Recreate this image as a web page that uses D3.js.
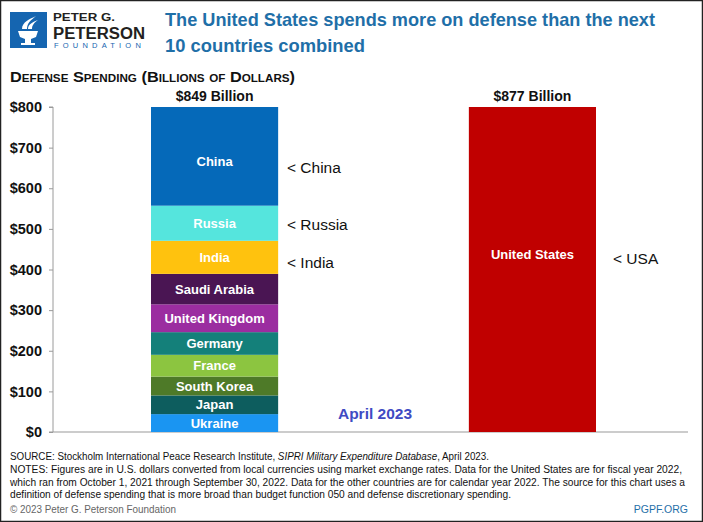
<!DOCTYPE html>
<html>
<head>
<meta charset="utf-8">
<script src="https://cdn.jsdelivr.net/npm/d3@7"></script>
<style>
  html, body { margin: 0; padding: 0; background: #fff; }
  svg { display: block; }
  text { font-family: "Liberation Sans", Arial, sans-serif; }
</style>
</head>
<body>
<svg id="chart" width="703" height="522"></svg>
<script>
// ---- data ----
const countries = ["Ukraine", "Japan", "South Korea", "France", "Germany", "United Kingdom", "Saudi Arabia", "India", "Russia", "China"];
const spending = [44.0, 46.0, 46.4, 53.6, 55.8, 68.5, 75.0, 81.4, 86.4, 292.0];
const countryColors = ["#1a95f2", "#0d5d5e", "#4e7a28", "#8cc540", "#14807a", "#9b2da0", "#4a1553", "#ffc20e", "#55e5dd", "#0569b9"];
const usLabel = "United States";
const usSpending = 877;
const barGroups = ["others", "us"];
const totalLabels = ["$849 Billion", "$877 Billion"];
const yTicks = [0, 100, 200, 300, 400, 500, 600, 700, 800];

const svg = d3.select("#chart");
const W = 703, H = 522;

// border
svg.append("rect").attr("x", 0.5).attr("y", 0.5).attr("width", W - 1).attr("height", H - 1)
  .attr("fill", "#fff").attr("stroke", "#222").attr("stroke-width", 1.5);

// ---- logo ----
const logo = svg.append("g");
logo.append("rect").attr("x", 10).attr("y", 12).attr("width", 37).attr("height", 36).attr("fill", "#1565b0");
logo.append("path").attr("d", "M18,31 L38,31 L36,37 L31,39 L31,43 L35,43 L35,45 L21,45 L21,43 L25,43 L25,39 L20,37 Z").attr("fill", "#fff");
logo.append("path").attr("d", "M22,29 C22,22 30,19 36,16 C31,20 27,23 27,29 Z").attr("fill", "#fff");
logo.append("path").attr("d", "M28,29 C28,24 33,22 38,20 C34,23 32,25 32,29 Z").attr("fill", "#fff");
logo.append("text").attr("x", 53).attr("y", 21).attr("font-size", 11.5).attr("font-weight", "bold")
  .attr("fill", "#231f20").attr("textLength", 62).attr("lengthAdjust", "spacingAndGlyphs").text("PETER G.");
logo.append("text").attr("x", 53).attr("y", 38.5).attr("font-size", 16).attr("font-weight", "bold")
  .attr("fill", "#231f20").attr("textLength", 92).attr("lengthAdjust", "spacingAndGlyphs").text("PETERSON");
logo.append("text").attr("x", 54).attr("y", 48).attr("font-size", 7.5).attr("letter-spacing", 2.2)
  .attr("fill", "#1565b0").attr("textLength", 89).attr("lengthAdjust", "spacing").text("FOUNDATION");

// ---- title ----
const titleColor = "#1f6fa8";
svg.append("text").attr("x", 165).attr("y", 26).attr("font-size", 19).attr("font-weight", "bold")
  .attr("fill", titleColor).attr("textLength", 490).attr("lengthAdjust", "spacingAndGlyphs")
  .text("The United States spends more on defense than the next");
svg.append("text").attr("x", 165).attr("y", 52).attr("font-size", 19).attr("font-weight", "bold")
  .attr("fill", titleColor).attr("textLength", 200).attr("lengthAdjust", "spacingAndGlyphs")
  .text("10 countries combined");

// subtitle small caps
svg.append("text").attr("x", 10).attr("y", 82).attr("font-size", 14).attr("font-weight", "bold")
  .attr("font-variant", "small-caps").attr("fill", "#111")
  .attr("textLength", 285).attr("lengthAdjust", "spacingAndGlyphs")
  .text("Defense Spending (Billions of Dollars)");

// ---- scales ----
const y = d3.scaleLinear().domain([0, 800]).range([432, 107]);
const x = d3.scaleBand().domain(barGroups).range([151, 596]).paddingInner(0.6).paddingOuter(0);

// axis
const yAxis = d3.axisLeft(y).tickValues(yTicks).tickSize(4).tickFormat(d => "$" + d);
const ag = svg.append("g").attr("transform", "translate(53,0)").call(yAxis);
ag.select(".domain").attr("stroke", "#9a9a9a").attr("d", "M-4,107H0V432H-4");
ag.selectAll(".tick line").attr("stroke", "#9a9a9a");
ag.selectAll(".tick text").attr("x", -11).attr("font-size", 14.5).attr("font-weight", "bold")
  .attr("fill", "#111").attr("font-family", "Liberation Sans, Arial, sans-serif");

// baseline
svg.append("line").attr("x1", 53).attr("x2", 688).attr("y1", y(0)).attr("y2", y(0))
  .attr("stroke", "#9a9a9a").attr("stroke-width", 1.2);

// ---- stacked bar ----
const row = {};
countries.forEach((c, i) => row[c] = spending[i]);
const stack = d3.stack().keys(countries)([row]);
const cap = v => Math.min(v, 800);

const segs = svg.append("g").selectAll("g").data(stack).join("g");
segs.append("rect")
  .attr("x", x("others")).attr("width", x.bandwidth())
  .attr("y", d => y(cap(d[0][1])))
  .attr("height", d => y(cap(d[0][0])) - y(cap(d[0][1])))
  .attr("fill", (d, i) => countryColors[i]);
segs.append("text")
  .attr("x", x("others") + x.bandwidth() / 2)
  .attr("y", d => (y(cap(d[0][1])) + y(cap(d[0][0]))) / 2 + (d.key === "China" ? 5 : 0))
  .attr("dy", "0.36em")
  .attr("text-anchor", "middle").attr("font-size", 13).attr("font-weight", "bold")
  .attr("fill", "#fff").text(d => d.key);

// ---- US bar ----
svg.append("rect").attr("x", x("us")).attr("width", x.bandwidth())
  .attr("y", y(cap(usSpending))).attr("height", y(0) - y(cap(usSpending)))
  .attr("fill", "#c00000");
svg.append("text").attr("x", x("us") + x.bandwidth() / 2).attr("y", (y(cap(usSpending)) + y(0)) / 2 - 15)
  .attr("dy", "0.36em").attr("text-anchor", "middle").attr("font-size", 13).attr("font-weight", "bold")
  .attr("fill", "#fff").text(usLabel);

// totals
barGroups.forEach((g, i) => {
  svg.append("text").attr("x", x(g) + x.bandwidth() / 2).attr("y", 101)
    .attr("text-anchor", "middle").attr("font-size", 14).attr("font-weight", "bold")
    .attr("fill", "#111").text(totalLabels[i]);
});

// callouts
const mid = k => { const l = stack.find(s => s.key === k); return (y(cap(l[0][1])) + y(cap(l[0][0]))) / 2; };
svg.append("text").attr("x", 287).attr("y", mid("China") + 11)
  .attr("dy", "0.36em").attr("font-size", 15.5).attr("fill", "#111").text("< China");
svg.append("text").attr("x", 287).attr("y", mid("Russia") + 1)
  .attr("dy", "0.36em").attr("font-size", 15.5).attr("fill", "#111").text("< Russia");
svg.append("text").attr("x", 287).attr("y", mid("India") + 5)
  .attr("dy", "0.36em").attr("font-size", 15.5).attr("fill", "#111").text("< India");
svg.append("text").attr("x", 613).attr("y", (y(cap(usSpending)) + y(0)) / 2 - 11)
  .attr("dy", "0.36em").attr("font-size", 15.5).attr("fill", "#111").text("< USA");

// April 2023
svg.append("text").attr("x", 375).attr("y", 419).attr("text-anchor", "middle")
  .attr("font-size", 15.5).attr("font-weight", "bold").attr("fill", "#3f4bc3").text("April 2023");

// ---- footer ----
const fs = 10;
const src = svg.append("text").attr("x", 10).attr("y", 460).attr("font-size", fs).attr("fill", "#111")
  .attr("textLength", 479).attr("lengthAdjust", "spacingAndGlyphs");
src.append("tspan").text("SOURCE: Stockholm International Peace Research Institute, ");
src.append("tspan").attr("font-style", "italic").text("SIPRI Military Expenditure Database");
src.append("tspan").text(", April 2023.");
const notes = [
  ["NOTES: Figures are in U.S. dollars converted from local currencies using market exchange rates. Data for the United States are for fiscal year 2022,", 473, 672],
  ["which ran from October 1, 2021 through September 30, 2022. Data for the other countries are for calendar year 2022. The source for this chart uses a", 486, 675],
  ["definition of defense spending that is more broad than budget function 050 and defense discretionary spending.", 498, 501]
];
notes.forEach(n => {
  svg.append("text").attr("x", 10).attr("y", n[1]).attr("font-size", fs).attr("fill", "#111")
    .attr("textLength", n[2]).attr("lengthAdjust", "spacingAndGlyphs").text(n[0]);
});
svg.append("text").attr("x", 10).attr("y", 513).attr("font-size", fs).attr("fill", "#666")
  .attr("textLength", 166).attr("lengthAdjust", "spacingAndGlyphs").text("© 2023 Peter G. Peterson Foundation");
svg.append("text").attr("x", 688).attr("y", 513).attr("text-anchor", "end").attr("font-size", fs + 0.5).attr("fill", "#1f6fa8")
  .text("PGPF.ORG");
</script>
</body>
</html>
